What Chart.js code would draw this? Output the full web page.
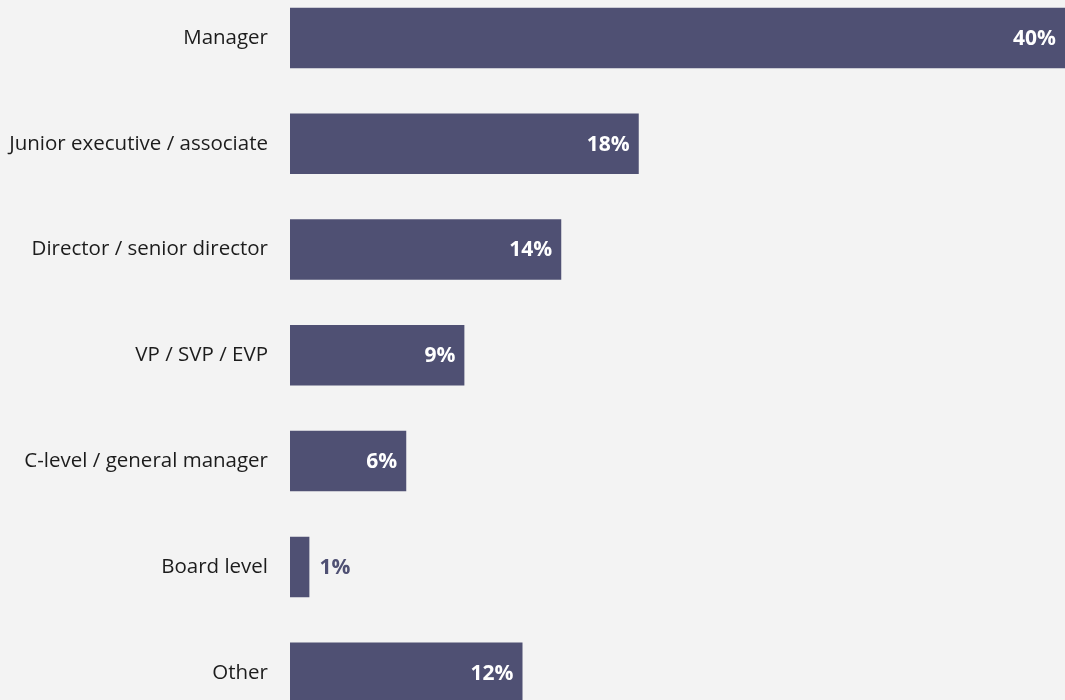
<!DOCTYPE html>
<html>
<head>
<meta charset="utf-8">
<script src="https://cdn.jsdelivr.net/npm/chart.js@4"></script>
<style>
  html, body { margin: 0; padding: 0; background: #f3f3f3; overflow: hidden; width: 1065px; height: 700px; }
  #wrap { position: absolute; left: 0; top: -15.4px; width: 1065px; height: 740.6px; }
</style>
</head>
<body>
<div id="wrap"><canvas id="c"></canvas></div>
<script>
const categories = ["Manager", "Junior executive / associate", "Director / senior director", "VP / SVP / EVP", "C-level / general manager", "Board level", "Other"];
const values = [40, 18, 14, 9, 6, 1, 12];
const valueLabels = ["40%", "18%", "14%", "9%", "6%", "1%", "12%"];

const barColor = "#4f5073";

const valueLabelPlugin = {
  id: "valueLabels",
  afterDatasetsDraw(chart) {
    const ctx = chart.ctx;
    const meta = chart.getDatasetMeta(0);
    ctx.save();
    ctx.font = "bold 21px 'Open Sans'";
    ctx.textBaseline = "middle";
    meta.data.forEach((bar, i) => {
      const inside = values[i] >= 3;
      if (inside) {
        ctx.fillStyle = "#ffffff";
        ctx.textAlign = "right";
        ctx.fillText(valueLabels[i], bar.x - 9, bar.y + 1);
      } else {
        ctx.fillStyle = barColor;
        ctx.textAlign = "left";
        ctx.fillText(valueLabels[i], bar.x + 10, bar.y + 1);
      }
    });
    ctx.restore();
  }
};

new Chart(document.getElementById("c"), {
  type: "bar",
  data: {
    labels: categories,
    datasets: [{
      data: values,
      backgroundColor: barColor,
      borderWidth: 0,
      barPercentage: 0.572,
      categoryPercentage: 1.0
    }]
  },
  options: {
    indexAxis: "y",
    responsive: true,
    maintainAspectRatio: false,
    animation: false,
    layout: { padding: 0 },
    plugins: { legend: { display: false }, tooltip: { enabled: false } },
    scales: {
      x: { display: false, min: 0, max: 40, grid: { display: false } },
      y: {
        grid: { display: false, drawTicks: false },
        border: { display: false },
        ticks: { color: "#1c1c1c", font: { family: "'Open Sans'", size: 20.5 }, padding: 22 },
        afterFit(scale) { scale.width = 290; scale.paddingTop = 0; scale.paddingBottom = 0; }
      }
    }
  },
  plugins: [valueLabelPlugin]
});
</script>
</body>
</html>
